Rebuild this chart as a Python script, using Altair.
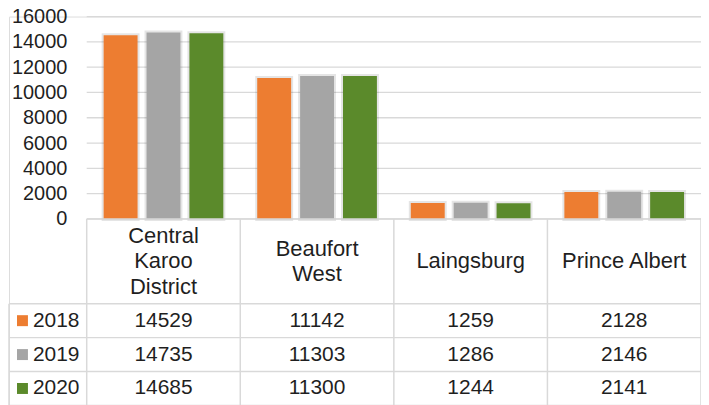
import altair as alt
import pandas as pd

# ---- data ----
categories = ["Central Karoo District", "Beaufort West", "Laingsburg", "Prince Albert"]
header_lines = [["Central", "Karoo", "District"], ["Beaufort", "West"], ["Laingsburg"], ["Prince Albert"]]
years = ["2018", "2019", "2020"]
v2018 = [14529, 11142, 1259, 2128]
v2019 = [14735, 11303, 1286, 2146]
v2020 = [14685, 11300, 1244, 2141]
y_ticks = [0, 2000, 4000, 6000, 8000, 10000, 12000, 14000, 16000]
colors = ["#ED7D31", "#A5A5A5", "#5B8A2B"]

FONT = "Liberation Sans"
TXT = "#1F1F1F"
LINE = "#D9D9D9"

W, H = 694, 390
LEG = 0.506            # width of legend column in category units
PLOT_H = 203           # pixel height of bar region
HEADER = 2.5           # header row height in table row units
LH = 0.75              # header line height in table row units
N = len(categories)

rows = []
for i, c in enumerate(categories):
    for r, (y, vals) in enumerate(zip(years, [v2018, v2019, v2020])):
        rows.append({"category": c, "year": y, "value": vals[i],
                     "cx": i + 0.5, "ry": HEADER + r + 0.5})
df = pd.DataFrame(rows)

hdr_rows = []
for i, lines in enumerate(header_lines):
    n = len(lines)
    for k, t in enumerate(lines):
        hdr_rows.append({"label": t, "cx": i + 0.5, "ry": HEADER / 2 + (k - (n - 1) / 2) * LH})
hdr = pd.DataFrame(hdr_rows)

leg = pd.DataFrame({"year": years, "lx": -LEG, "ry": [HEADER + r + 0.5 for r in range(len(years))]})
grid = pd.DataFrame({"v": y_ticks, "x0": 0, "x1": N})
hlines = pd.DataFrame({"ry": [0] + [HEADER + r for r in range(len(years) + 1)],
                       "x0": [0] + [-LEG] * (len(years) + 1), "x1": N})
vlines = pd.DataFrame({"lx": [-LEG] + list(range(N + 1)),
                       "y0": [HEADER] + [0] * (N + 1), "y1": HEADER + len(years)})

xq_scale = alt.Scale(domain=[-LEG, N], range=[0, W], nice=False, zero=False)
yv_scale = alt.Scale(domain=[0, 16000], range=[PLOT_H, 0], nice=False)
yt_scale = alt.Scale(domain=[0, HEADER + len(years)], range=[PLOT_H, H], nice=False, zero=False)
xc_scale = alt.Scale(domain=categories, range=[LEG * W / (N + LEG), W], paddingInner=0, paddingOuter=0)
xo_scale = alt.Scale(domain=years, paddingInner=0.209, paddingOuter=0.395)
col_scale = alt.Scale(domain=years, range=colors)

def XQ(f):
    return alt.X(f, type="quantitative", scale=xq_scale, axis=None)

def YT(f):
    return alt.Y(f, type="quantitative", scale=yt_scale, axis=None)

gridlines = alt.Chart(grid).mark_rule(color=LINE, strokeWidth=1.3).encode(
    x=XQ("x0"), x2="x1",
    y=alt.Y("v:Q", scale=yv_scale, axis=None),
)

shadow = alt.Chart(df).mark_bar(fill="transparent", stroke="#000000", strokeOpacity=0.10,
                                strokeWidth=4).encode(
    x=alt.X("category:N", sort=categories, scale=xc_scale, axis=None),
    xOffset=alt.XOffset("year:N", sort=years, scale=xo_scale),
    y=alt.Y("value:Q", scale=yv_scale, axis=None),
)

bars = alt.Chart(df).mark_bar().encode(
    x=alt.X("category:N", sort=categories, scale=xc_scale, axis=None),
    xOffset=alt.XOffset("year:N", sort=years, scale=xo_scale),
    y=alt.Y("value:Q", scale=yv_scale,
            axis=alt.Axis(values=y_ticks, offset=-58, ticks=False, domain=False, grid=False,
                          labelPadding=0, title=None, labelFont=FONT, labelFontSize=20,
                          labelColor=TXT, format="d")),
    color=alt.Color("year:N", scale=col_scale, legend=None),
)

h_rules = alt.Chart(hlines).mark_rule(color=LINE, strokeWidth=1.5).encode(
    x=XQ("x0"), x2="x1", y=YT("ry"))
v_rules = alt.Chart(vlines).mark_rule(color=LINE, strokeWidth=1.5).encode(
    x=XQ("lx"), y=YT("y0"), y2="y1")

header_text = alt.Chart(hdr).mark_text(font=FONT, fontSize=22, color=TXT,
                                       baseline="middle", align="center").encode(
    x=XQ("cx"), y=YT("ry"), text="label:N")

value_text = alt.Chart(df).mark_text(font=FONT, fontSize=21, color=TXT,
                                     baseline="middle", align="center").encode(
    x=XQ("cx"), y=YT("ry"), text=alt.Text("value:Q", format="d"))

leg_sq = alt.Chart(leg).mark_square(size=121, opacity=1, xOffset=13.5).encode(
    x=XQ("lx"), y=YT("ry"),
    color=alt.Color("year:N", scale=col_scale, legend=None))

leg_text = alt.Chart(leg).mark_text(font=FONT, fontSize=21, color=TXT, baseline="middle",
                                    align="left", dx=24).encode(
    x=XQ("lx"), y=YT("ry"), text="year:N")

chart = alt.layer(gridlines, shadow, bars, h_rules, v_rules, header_text, value_text, leg_sq, leg_text).resolve_scale(
    x="independent", y="independent", color="independent"
).properties(
    width=W, height=H,
    autosize=alt.AutoSizeParams(type="none"),
    padding={"left": 1, "top": 8, "right": 0, "bottom": 0},
).configure_view(stroke=None).configure(background="white")

chart.save("out.html", embed_options={"renderer": "svg", "actions": False})
